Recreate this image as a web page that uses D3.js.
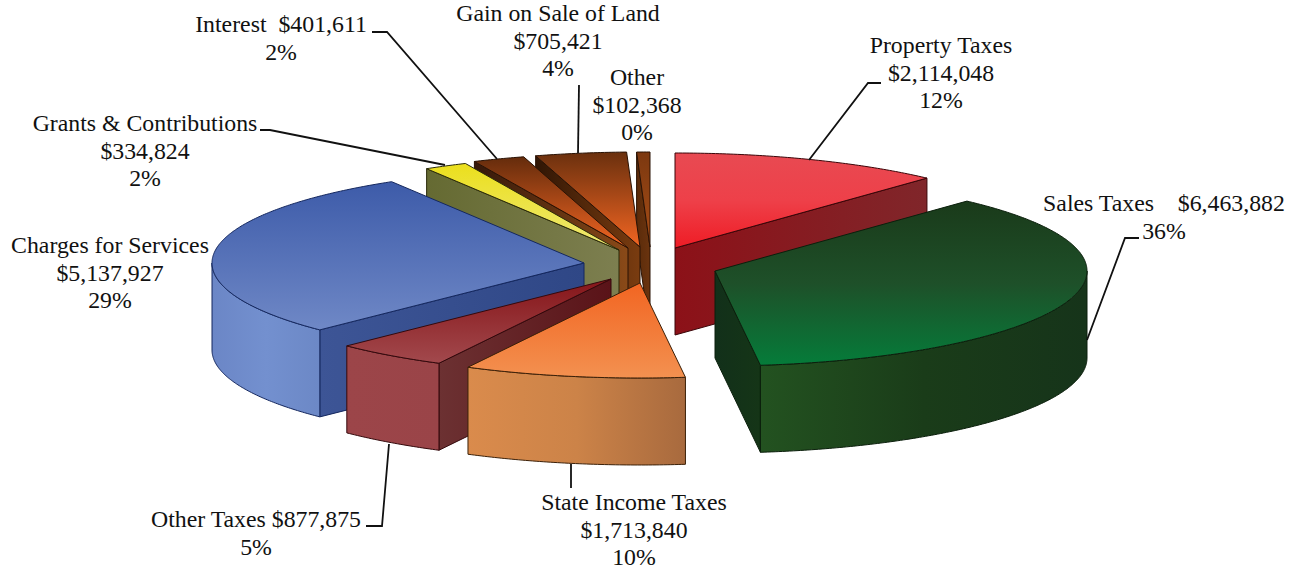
<!DOCTYPE html>
<html><head><meta charset="utf-8">
<script src="https://cdnjs.cloudflare.com/ajax/libs/d3/7.8.5/d3.min.js"></script>
<style>html,body{margin:0;padding:0;background:#fff;overflow:hidden}svg{display:block}text{font-family:"Liberation Serif",serif;font-size:23.8px;fill:#111;white-space:pre;text-anchor:middle}</style>
</head><body><svg id="c" width="1296" height="571"></svg>
<script>
// ---- data
const categories=["Property Taxes","Sales Taxes","State Income Taxes","Other Taxes","Charges for Services","Grants & Contributions","Interest","Gain on Sale of Land","Other"];
const values=[2114048,6463882,1713840,877875,5137927,334824,401611,705421,102368];
const labelLines=[
 ["Property Taxes","$2,114,048","12%"],
 ["Sales Taxes    $6,463,882","36%"],
 ["State Income Taxes","$1,713,840","10%"],
 ["Other Taxes $877,875","5%"],
 ["Charges for Services","$5,137,927","29%"],
 ["Grants & Contributions","$334,824","2%"],
 ["Interest  $401,611","2%"],
 ["Gain on Sale of Land","$705,421","4%"],
 ["Other","$102,368","0%"]];
// ---- layout and style
const W=1296,H=571,RX=372,RY=95,DEPTH=87;
const centres=[[675,248],[715,271],[640,283],[611,279],[584,263],[619,250],[628,248],[640,247],[650,247]];
const labelPos=[[941,53],[1164,211],[634,510],[256,527],[110,253],[145,131],[281,32],[558,21],[637,85]];
const leaders=[[[809,160],[868,83],[881,83]],[[1087,340],[1125,238],[1139,238]],[[571,464],[571,488]],[[389,444],[382,526],[366,526]],[],[[445,165],[270,130],[260,130]],[[497,159],[387,32],[372,32]],[[578,153],[579,85]],[]];
const topStops=[["#e84a52","#ee4049","#ef1c25"],["#1a3a1a","#1e5029","#057c3a"],["#f26522","#f39150"],["#861519","#a2494d"],["#3d5ba9","#6f88c6"],["#ebdf1c","#efe976"],["#652c0c","#f26522"],["#6a300e","#f26522"],["#7c3810","#a84e16"]];
const outerStops=[["#000","#000"],["#235220","#1a3c19","#16341a"],["#da8b4c","#cc8348","#a86a3e"],["#9c4549","#9a4448"],["#6b86c6","#7390cf","#6c88c6"],["#000","#000"],["#000","#000"],["#000","#000"],["#000","#000"]];
const wallStops=[["#8c1118","#80262a"],["#12301a","#153517"],["#000","#000"],["#6c3132","#5a1318"],["#3d5596","#2f4786"],["#656a32","#7d7f50"],["#35180a","#8a4a18"],["#301605","#7a3c10"],["#5a2b0a","#6b340f"]];
const strokes=["#3a0508","#0b1f0c","#3b2008","#34090c","#14275e","#2a2a0a","#2a1204","#2a1204","#2a1204"];

const svg=d3.select("#c"),defs=svg.append("defs");
const rx=d3.scaleLinear().domain([-1,1]).range([-RX,RX]);
const ry=d3.scaleLinear().domain([-1,1]).range([-RY,RY]);
const pie=d3.pie().sort(null).startAngle(0).endAngle(2*Math.PI);
const arcs=pie(values);
const line=d3.line();
const pt=(i,a,z=0)=>[centres[i][0]+rx(Math.sin(a)),centres[i][1]-ry(Math.cos(a))+z];
const sample=(a0,a1)=>{const n=Math.max(2,Math.ceil(Math.abs(a1-a0)/0.01));return d3.range(n+1).map(k=>a0+(a1-a0)*k/n);};
function grad(id,stops,x1,y1,x2,y2){
 const g=defs.append("linearGradient").attr("id",id).attr("x1",x1).attr("y1",y1).attr("x2",x2).attr("y2",y2);
 stops.forEach((c,k)=>g.append("stop").attr("offset",k/(stops.length-1)).attr("stop-color",c));
 return `url(#${id})`;
}
const order=[8,7,6,5,0,4,3,2,1];
order.forEach(i=>{
 const d=arcs[i],c=centres[i],g=svg.append("g").attr("class","slice");
 const wall=(a)=>{
  const o=pt(i,a),b=pt(i,a,DEPTH),ib=[c[0],c[1]+DEPTH];
  g.append("path").attr("d",line([c,o,b,ib])+"Z")
   .attr("fill",grad("w"+i+"_"+Math.round(a*100),wallStops[i],0,0,1,0)).attr("stroke",strokes[i]).attr("stroke-linejoin","round");
 };
 if(Math.sin(d.startAngle)<0) wall(d.startAngle);
 if(Math.sin(d.endAngle)>0 && d.endAngle<6.2) wall(d.endAngle);
 const a0=Math.max(d.startAngle,Math.PI/2),a1=Math.min(d.endAngle,3*Math.PI/2);
 if(a1>a0){
  const s=sample(a0,a1);
  g.append("path").attr("d",line([...s.map(a=>pt(i,a)),...s.slice().reverse().map(a=>pt(i,a,DEPTH))])+"Z")
   .attr("fill",grad("o"+i,outerStops[i],0,0,1,0)).attr("stroke",strokes[i]).attr("stroke-linejoin","round");
 }
 g.append("path").attr("d",line([c,...sample(d.startAngle,d.endAngle).map(a=>pt(i,a))])+"Z")
  .attr("fill",grad("t"+i,topStops[i],0,0,0,1)).attr("stroke",strokes[i]).attr("stroke-linejoin","round");
});
svg.append("g").selectAll("path").data(leaders.filter(l=>l.length)).join("path")
 .attr("d",line).attr("fill","none").attr("stroke","#111").attr("stroke-width",1.8);
categories.forEach((name,i)=>{
 const t=svg.append("text").attr("aria-label",name);
 labelLines[i].forEach((s,k)=>t.append("tspan").attr("x",labelPos[i][0]).attr("y",labelPos[i][1]+k*27.7).text(s));
});
</script></body></html>
